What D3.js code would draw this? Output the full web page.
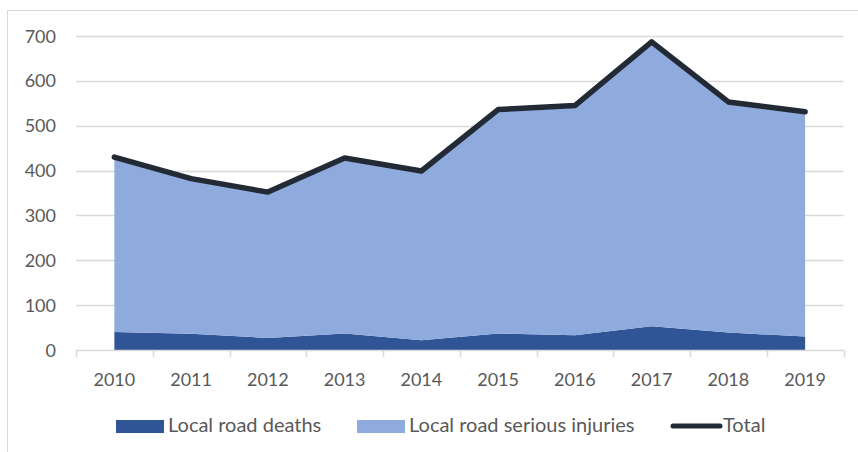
<!DOCTYPE html>
<html>
<head>
<meta charset="utf-8">
<script src="https://cdn.jsdelivr.net/npm/d3@7"></script>
<style>
  body { margin: 0; background: #fff; }
  text { font-family: Lato, "Open Sans", sans-serif; fill: #595959; }
</style>
</head>
<body>
<script>
  // data
  var years = ["2010", "2011", "2012", "2013", "2014", "2015", "2016", "2017", "2018", "2019"];
  var deaths = [40, 36, 27, 37, 22, 37, 33, 53, 39, 30];
  var injuries = [390, 346, 325, 391, 377, 499, 512, 634, 514, 501];
  var total = [430, 382, 352, 428, 399, 536, 545, 687, 553, 531];
  var yTicks = [0, 100, 200, 300, 400, 500, 600, 700];
  var seriesNames = ["Local road deaths", "Local road serious injuries", "Total"];

  var width = 858, height = 452;
  var colors = { deaths: "#2F5597", injuries: "#8FAADC", total: "#222A35" };

  var svg = d3.select("body").append("svg")
    .attr("width", width)
    .attr("height", height);

  // chart frame (only top and left visible)
  svg.append("rect")
    .attr("x", 7.5).attr("y", 10.5)
    .attr("width", 900).attr("height", 500)
    .attr("fill", "none")
    .attr("stroke", "#D9D9D9");

  var x = d3.scaleBand()
    .domain(years)
    .range([76, 843.5]);

  var y = d3.scaleLinear()
    .domain([0, 700])
    .range([350, 36]);

  var cx = function(d) { return x(d) + x.bandwidth() / 2; };

  // gridlines
  svg.append("g").selectAll("line")
    .data(yTicks.filter(function(d) { return d > 0; }))
    .enter().append("line")
    .attr("x1", 76).attr("x2", 843.5)
    .attr("y1", function(d) { return Math.round(y(d)) + 0.5; })
    .attr("y2", function(d) { return Math.round(y(d)) + 0.5; })
    .attr("stroke", "#D9D9D9")
    .attr("stroke-width", 1.5);

  // stacked areas
  var table = years.map(function(yr, i) {
    return { year: yr, deaths: deaths[i], injuries: injuries[i] };
  });
  var stacked = d3.stack().keys(["deaths", "injuries"])(table);

  var area = d3.area()
    .x(function(d) { return cx(d.data.year); })
    .y0(function(d) { return y(d[0]); })
    .y1(function(d) { return y(d[1]); });

  svg.append("g").selectAll("path")
    .data(stacked)
    .enter().append("path")
    .attr("d", area)
    .attr("fill", function(d) { return colors[d.key]; });

  // total line
  var line = d3.line()
    .x(function(d, i) { return cx(years[i]); })
    .y(function(d) { return y(d); });

  svg.append("path")
    .datum(total)
    .attr("d", line)
    .attr("fill", "none")
    .attr("stroke", colors.total)
    .attr("stroke-width", 5.5)
    .attr("stroke-linejoin", "round")
    .attr("stroke-linecap", "round");

  // x axis
  var xAxis = svg.append("g");
  xAxis.append("line")
    .attr("x1", 76).attr("x2", 843.5)
    .attr("y1", 350.5).attr("y2", 350.5)
    .attr("stroke", "#D9D9D9")
    .attr("stroke-width", 1.5);

  var bounds = years.map(function(d) { return x(d); }).concat([x.range()[1]]);
  xAxis.selectAll(".tick")
    .data(bounds)
    .enter().append("line")
    .attr("x1", function(d) { return Math.round(d) + 0.5; })
    .attr("x2", function(d) { return Math.round(d) + 0.5; })
    .attr("y1", 350).attr("y2", 357)
    .attr("stroke", "#D9D9D9")
    .attr("stroke-width", 1.5);

  xAxis.selectAll("text")
    .data(years)
    .enter().append("text")
    .attr("x", cx)
    .attr("y", 386)
    .attr("text-anchor", "middle")
    .attr("font-size", 18)
    .text(function(d) { return d; });

  // y labels
  svg.append("g").selectAll("text")
    .data(yTicks)
    .enter().append("text")
    .attr("x", 56)
    .attr("y", function(d) { return y(d) + 6.5; })
    .attr("text-anchor", "end")
    .attr("font-size", 18)
    .text(function(d) { return d; });

  // legend
  var legend = svg.append("g");
  var legendX = [116, 357, 671];

  legend.append("rect")
    .attr("x", legendX[0]).attr("y", 420)
    .attr("width", 48).attr("height", 13)
    .attr("fill", colors.deaths);
  legend.append("rect")
    .attr("x", legendX[1]).attr("y", 420)
    .attr("width", 48).attr("height", 13)
    .attr("fill", colors.injuries);
  legend.append("line")
    .attr("x1", legendX[2] + 2).attr("x2", legendX[2] + 49)
    .attr("y1", 426).attr("y2", 426)
    .attr("stroke", colors.total)
    .attr("stroke-width", 5)
    .attr("stroke-linecap", "round");

  legend.selectAll("text")
    .data(seriesNames)
    .enter().append("text")
    .attr("x", function(d, i) { return legendX[i] + (i == 2 ? 52 : 52); })
    .attr("y", 432)
    .attr("font-size", 20)
    .text(function(d) { return d; });
</script>
</body>
</html>
